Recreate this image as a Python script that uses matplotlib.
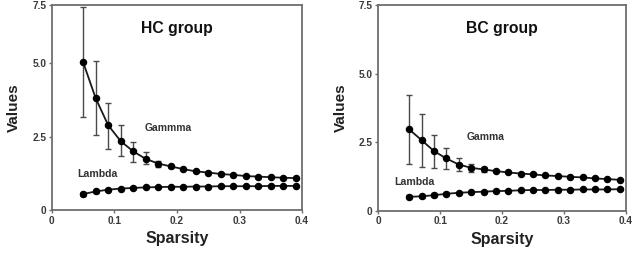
import numpy as np
import matplotlib
matplotlib.use("Agg")
import matplotlib.pyplot as plt

sparsity = [0.05, 0.07, 0.09, 0.11, 0.13, 0.15, 0.17, 0.19, 0.21, 0.23,
            0.25, 0.27, 0.29, 0.31, 0.33, 0.35, 0.37, 0.39]

hc_gamma = [5.04, 3.82, 2.91, 2.37, 2.02, 1.76, 1.60, 1.50, 1.41, 1.33,
            1.29, 1.24, 1.21, 1.17, 1.15, 1.13, 1.11, 1.10]
hc_gamma_err_lo = [1.86, 1.24, 0.80, 0.52, 0.36, 0.19, 0.12, 0.06, 0.03, 0.02,
                   0.02, 0.02, 0.0, 0.0, 0.0, 0.0, 0.0, 0.0]
hc_gamma_err_hi = [2.37, 1.27, 0.76, 0.53, 0.33, 0.22, 0.10, 0.06, 0.03, 0.02,
                   0.02, 0.02, 0.0, 0.0, 0.0, 0.0, 0.0, 0.0]
hc_lambda = [0.55, 0.64, 0.70, 0.74, 0.76, 0.78, 0.79, 0.80, 0.80, 0.81,
             0.81, 0.82, 0.82, 0.82, 0.82, 0.83, 0.83, 0.83]
hc_lambda_err = [0.08, 0.05, 0.03, 0.02, 0.02, 0.0, 0.0, 0.0, 0.0, 0.0,
                 0.0, 0.0, 0.0, 0.0, 0.0, 0.0, 0.0, 0.0]

bc_gamma = [2.97, 2.58, 2.18, 1.91, 1.69, 1.57, 1.51, 1.45, 1.40, 1.36,
            1.33, 1.29, 1.27, 1.24, 1.22, 1.18, 1.16, 1.13]
bc_gamma_err = [1.27, 0.97, 0.60, 0.38, 0.25, 0.15, 0.08, 0.05, 0.03, 0.02,
                0.0, 0.0, 0.0, 0.0, 0.0, 0.0, 0.0, 0.0]
bc_lambda = [0.51, 0.53, 0.57, 0.62, 0.66, 0.68, 0.70, 0.72, 0.73, 0.75,
             0.76, 0.76, 0.77, 0.77, 0.78, 0.78, 0.78, 0.79]
bc_lambda_err = [0.05, 0.05, 0.08, 0.05, 0.03, 0.02, 0.0, 0.0, 0.0, 0.0,
                 0.0, 0.0, 0.0, 0.0, 0.0, 0.0, 0.0, 0.0]

x_ticks = [0, 0.1, 0.2, 0.3, 0.4]
x_ticklabels = ["0", "0.1", "0.2", "0.3", "0.4"]
y_ticks = [0, 2.5, 5.0, 7.5]
y_ticklabels = ["0", "2.5", "5.0", "7.5"]

# left panel's printed axis is not evenly spaced: tick positions in pixels
hc_tick_pos = [0.0, 72.7, 147.0, 204.7]


def fwd(v):
    return np.interp(v, y_ticks, hc_tick_pos)


def inv(p):
    return np.interp(p, hc_tick_pos, y_ticks)


plt.rcParams['font.family'] = ['Liberation Sans', 'DejaVu Sans']

fig = plt.figure(figsize=(6.4, 2.54), dpi=100)
ax1 = fig.add_axes([0.081, 0.173, 0.391, 0.806])
ax2 = fig.add_axes([0.591, 0.170, 0.387, 0.809])

line_c = '#1a1a1a'
err_c = '#4a4a4a'
spine_c = '#6e6e6e'
tick_c = '#3a3a3a'


def draw(ax, gamma, gerr, lam, lerr, title, glabel, gpos, lpos):
    ax.errorbar(sparsity, gamma, yerr=gerr, color=line_c, ecolor=err_c,
                elinewidth=1.0, capsize=2.5, capthick=1.0, lw=1.3,
                marker='o', ms=4.4, mfc='black', mec='black', zorder=3)
    ax.errorbar(sparsity, lam, yerr=lerr, color=line_c, ecolor=err_c,
                elinewidth=1.0, capsize=2.5, capthick=1.0, lw=1.3,
                marker='o', ms=4.4, mfc='black', mec='black', zorder=3)
    ax.set_xlim(0, 0.4)
    ax.set_ylim(0, 7.5)
    ax.set_xticks(x_ticks)
    ax.set_xticklabels(x_ticklabels)
    ax.set_yticks(y_ticks)
    ax.set_yticklabels(y_ticklabels)
    for s in ax.spines.values():
        s.set_color(spine_c)
        s.set_linewidth(1.3)
    ax.tick_params(axis='both', length=2.5, width=1.0, color=spine_c,
                   labelsize=7.3, labelcolor=tick_c, pad=1.5)
    for lab in ax.get_xticklabels() + ax.get_yticklabels():
        lab.set_fontweight('bold')
    ax.set_xlabel('Sparsity', fontsize=11.5, fontweight='bold', labelpad=4, color='#222222')
    ax.set_ylabel('Values', fontsize=11, fontweight='bold', labelpad=8, color='#222222')
    ax.text(0.5, 0.885, title, transform=ax.transAxes, ha='center', va='center',
            fontsize=11.3, fontweight='bold', color='#111111')
    ax.text(gpos[0], gpos[1], glabel, transform=ax.transAxes, ha='center', va='center',
            fontsize=7.5, fontweight='bold', color='#333333')
    ax.text(lpos[0], lpos[1], 'Lambda', transform=ax.transAxes, ha='center', va='center',
            fontsize=7.6, fontweight='bold', color='#333333')


ax1.set_yscale('function', functions=(fwd, inv))
draw(ax1, hc_gamma, [hc_gamma_err_lo, hc_gamma_err_hi], hc_lambda, hc_lambda_err,
     'HC group', 'Gammma', (0.464, 0.40), (0.184, 0.176))
draw(ax2, bc_gamma, bc_gamma_err, bc_lambda, bc_lambda_err,
     'BC group', 'Gamma', (0.435, 0.359), (0.145, 0.14))

fig.savefig('out.png', dpi=100)
